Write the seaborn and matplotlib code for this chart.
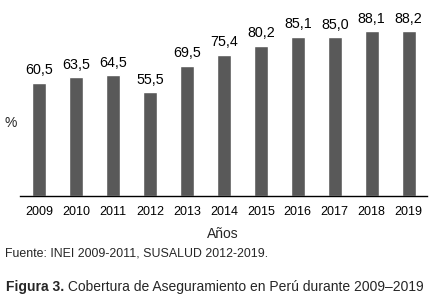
import matplotlib
matplotlib.use("Agg")
import matplotlib.pyplot as plt
import seaborn as sns
import pandas as pd

# datos
anios = ["2009", "2010", "2011", "2012", "2013", "2014",
         "2015", "2016", "2017", "2018", "2019"]
cobertura = [60.5, 63.5, 64.5, 55.5, 69.5, 75.4, 80.2, 85.1, 85.0, 88.1, 88.2]

df = pd.DataFrame({"anio": anios, "cobertura": cobertura})

sns.set_style("white")
plt.rcParams["font.family"] = ["Liberation Sans", "DejaVu Sans"]

fig = plt.figure(figsize=(4.36, 3.01), dpi=100)
ax = fig.add_axes([0.046, 0.349, 0.933, 0.621])

sns.barplot(data=df, x="anio", y="cobertura", color="#595959",
            saturation=1, width=0.38, ax=ax)

ax.bar_label(ax.containers[0],
             labels=[f"{v:.1f}".replace(".", ",") for v in cobertura],
             padding=4, fontsize=10.3, color="black")

ax.set_ylim(0, 100)
ax.set_xlim(-0.51, 10.49)
ax.set_yticks([])
ax.set_xlabel("")
ax.set_ylabel("")
ax.tick_params(axis="x", length=0, pad=7, labelsize=9, colors="black")
for s in ["top", "right", "left"]:
    ax.spines[s].set_visible(False)
ax.spines["bottom"].set_color("black")
ax.spines["bottom"].set_linewidth(1)

fig.text(11 / 436, 1 - 123 / 301, "%", fontsize=10, ha="center", va="center")
fig.text(223 / 436, 1 - 234 / 301, "Años", fontsize=10, ha="center", va="center")
fig.text(5 / 436, 1 - 254 / 301, "Fuente: INEI 2009-2011, SUSALUD 2012-2019.",
         fontsize=8.9, ha="left", va="center")

t = fig.text(6 / 436, 1 - 287 / 301, "Figura 3.", fontsize=10,
             fontweight="bold", ha="left", va="center")
fig.canvas.draw()
bb = t.get_window_extent()
fig.text(bb.x1 / fig.bbox.width, 1 - 287 / 301,
         " Cobertura de Aseguramiento en Perú durante 2009–2019",
         fontsize=10, ha="left", va="center")

fig.savefig("out.png", dpi=100)
